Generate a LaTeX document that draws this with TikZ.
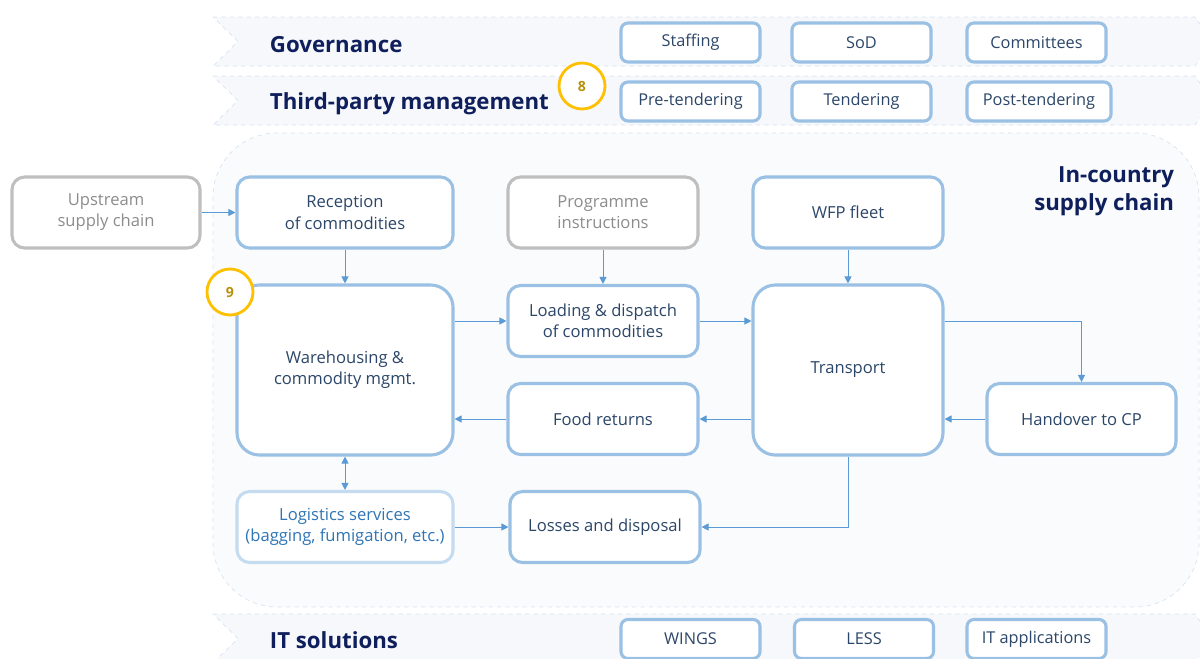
\documentclass[tikz,border=0pt]{standalone}
\usepackage{fontspec}
\setmainfont{Open Sans}
\usetikzlibrary{arrows.meta}
\definecolor{navy}{HTML}{0F1F5C}
\definecolor{boxblue}{HTML}{9AC0E4}
\definecolor{boxtext}{HTML}{2B4668}
\definecolor{flowblue}{HTML}{5B9BD5}
\definecolor{extgray}{HTML}{BFBFBF}
\definecolor{exttext}{HTML}{8C8C8C}
\definecolor{lightblue}{HTML}{C5DCF0}
\definecolor{lighttext}{HTML}{2E75B6}
\definecolor{marker}{HTML}{FFC000}
\definecolor{markertext}{HTML}{B8900A}
\definecolor{bandfill}{HTML}{F6F8FC}
\definecolor{banddash}{HTML}{D8E3F1}
\definecolor{areafill}{HTML}{FAFBFD}

\begin{document}
\begin{tikzpicture}[x=0.025cm,y=-0.025cm]
% Estilos
\tikzset{
  band/.style={fill=bandfill, draw=banddash, dashed, line width=0.5pt},
  heading/.style={anchor=west, text=navy, font=\fontsize{15.8}{18}\selectfont\bfseries},
  tagbox/.style={rectangle, rounded corners=5pt, draw=boxblue, line width=2.2pt, fill=white, text=boxtext, minimum width=3.475cm, minimum height=0.975cm, font=\fontsize{11.6}{15}\selectfont},
  stepbox/.style={rectangle, rounded corners=9pt, draw=boxblue, line width=2.2pt, fill=white, text=boxtext, align=center, minimum height=1.775cm, font=\fontsize{11.8}{15}\selectfont},
  bigbox/.style={stepbox, rounded corners=16pt, minimum height=4.25cm},
  extbox/.style={stepbox, draw=extgray, text=exttext},
  lightbox/.style={stepbox, draw=lightblue, text=lighttext},
  marker/.style={circle, draw=marker, line width=2pt, fill=white, text=markertext, minimum size=1.15cm, font=\fontsize{10}{12}\selectfont\bfseries},
  flow/.style={draw=flowblue, line width=0.6pt, -{Triangle[width=5pt,length=5pt]}}
}
\useasboundingbox (0,0) rectangle (1200,658);

% Faixas
\draw[band] (213,17) -- (1195,17) -- (1212,41.5) -- (1195,66) -- (213,66) -- (238,41.5) -- cycle;
\draw[band] (213,76) -- (1195,76) -- (1212,100.5) -- (1195,125) -- (213,125) -- (238,100.5) -- cycle;
\draw[band] (213,614) -- (1195,614) -- (1212,638.5) -- (1195,663) -- (213,663) -- (238,638.5) -- cycle;
\draw[fill=areafill, draw=banddash, dashed, line width=0.5pt, rounded corners=1.6cm] (213,133) rectangle (1199,607);

% Titulos
\node[heading] (governance) at (265,45) {Governance};
\node[heading] (thirdparty) at (265,104) {Third-party management};
\node[heading] (itsolutions) at (265,640) {IT solutions};
\node[heading, anchor=east, align=right, font=\fontsize{15.8}{20}\selectfont\bfseries] (incountry) at (1179,191) {In-country\\supply chain};

% Caixas das faixas
\node[tagbox] (staffing) at (690.5,42.5) {Staffing};
\node[tagbox] (sod) at (861.5,42.5) {SoD};
\node[tagbox] (committees) at (1036.5,42.5) {Committees};
\node[tagbox] (pretendering) at (690.5,101.5) {Pre-tendering};
\node[tagbox] (tendering) at (861.5,101.5) {Tendering};
\node[tagbox, minimum width=3.6cm] (posttendering) at (1039,101.5) {Post-tendering};
\node[tagbox] (wings) at (690.5,639) {WINGS};
\node[tagbox] (less) at (864,639) {LESS};
\node[tagbox] (itapps) at (1036.5,639) {IT applications};

% Cadeia de abastecimento
\node[extbox, minimum width=4.7cm] (upstream_box) at (106,212.5) {Upstream\\supply chain};
\node[stepbox, minimum width=5.4cm] (reception_box) at (345,212.5) {Reception\\of commodities};
\node[extbox, minimum width=4.75cm] (programme_box) at (603,212.5) {Programme\\instructions};
\node[stepbox, minimum width=4.75cm] (fleet_box) at (848,212.5) {WFP fleet};
\node[bigbox, minimum width=5.4cm] (warehousing_box) at (345,370) {Warehousing \&\\commodity mgmt.};
\node[stepbox, minimum width=4.75cm] (loading_box) at (603,321) {Loading \& dispatch\\of commodities};
\node[bigbox, minimum width=4.75cm] (transport_box) at (848,370) {Transport};
\node[stepbox, minimum width=4.75cm] (food_box) at (603,419) {Food returns};
\node[stepbox, minimum width=4.725cm] (handover_box) at (1081.5,419) {Handover to CP};
\node[lightbox, minimum width=5.4cm] (logistics_box) at (345,527) {Logistics services\\(bagging, fumigation, etc.)};
\node[stepbox, minimum width=4.75cm] (losses_box) at (605,527) {Losses and disposal};

% Marcadores
\node[marker] (mark8) at (582,86) {8};
\node[marker] (mark9) at (230,292) {9};

% Fluxos
\draw[flow] (upstream_box) -- (reception_box);
\draw[flow] (reception_box) -- (warehousing_box);
\draw[flow] (programme_box) -- (loading_box);
\draw[flow] (fleet_box) -- (transport_box);
\draw[flow] (warehousing_box.east |- loading_box) -- (loading_box);
\draw[flow] (loading_box) -- (loading_box -| transport_box.west);
\draw[flow] (transport_box.east |- loading_box) -| (handover_box);
\draw[flow] (handover_box) -- (handover_box -| transport_box.east);
\draw[flow] (transport_box.west |- food_box) -- (food_box);
\draw[flow] (food_box) -- (food_box -| warehousing_box.east);
\draw[flow, {Triangle[width=5pt,length=5pt]}-{Triangle[width=5pt,length=5pt]}] (warehousing_box) -- (logistics_box);
\draw[flow] (logistics_box) -- (losses_box);
\draw[flow] (transport_box) |- (losses_box);

\end{tikzpicture}
\end{document}
